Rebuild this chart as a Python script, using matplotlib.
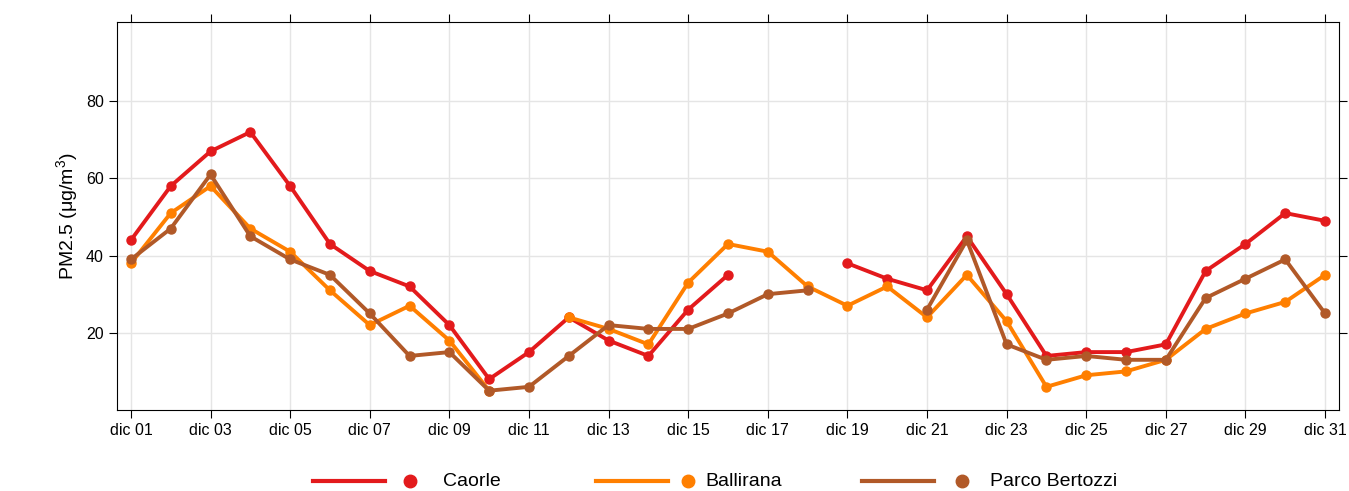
import matplotlib
matplotlib.use("Agg")
import matplotlib.pyplot as plt
from matplotlib.lines import Line2D
import numpy as np

plt.rcParams['font.family'] = ['Liberation Sans', 'DejaVu Sans']
plt.rcParams['mathtext.fontset'] = 'custom'
plt.rcParams['mathtext.rm'] = 'Liberation Sans'
plt.rcParams['mathtext.it'] = 'Liberation Sans'

nan = np.nan
days = list(range(1, 32))
caorle = [44,58,67,72,58,43,36,32,22,8,15,24,18,14,26,35,nan,nan,38,34,31,45,30,14,15,15,17,36,43,51,49]
ballirana = [38,51,58,47,41,31,22,27,18,5,nan,24,21,17,33,43,41,32,27,32,24,35,23,6,9,10,13,21,25,28,35]
bertozzi = [39,47,61,45,39,35,25,14,15,5,6,14,22,21,21,25,30,31,nan,nan,26,44,17,13,14,13,13,29,34,39,25]
series = [("Caorle", caorle, "#e31a1c"), ("Ballirana", ballirana, "#ff7f00"), ("Parco Bertozzi", bertozzi, "#b15928")]
tick_days = list(range(1, 32, 2))
tick_labels = [f"dic {d:02d}" for d in tick_days]

fig = plt.figure(figsize=(13.49, 4.91), dpi=100)
ax = fig.add_axes([117/1349, 1-410/491, 1222/1349, (410-22)/491])
for name, vals, c in series:
    ax.plot(days, vals, color=c, lw=2.8, marker="o", ms=6.5, label=name)
ax.set_xlim(0.65, 31.35)
ax.set_ylim(0, 100.5)
ax.set_xticks(tick_days)
ax.set_xticklabels(tick_labels, fontsize=11.5)
ax.set_yticks([20, 40, 60, 80])
ax.tick_params(axis="both", labelsize=11.5, direction="out", length=6, top=True, right=True, labeltop=False, labelright=False)
ax.grid(color="#e5e5e5", lw=1)
ax.set_axisbelow(True)
ax.set_ylabel("PM2.5 ($\\mathrm{\\mu}$g/m$^3$)", fontsize=14)

ly = 1 - 481/491
xs = [(313, 410, 443, "Caorle"), (596, 688, 705, "Ballirana"), (862, 962, 990, "Parco Bertozzi")]
for (x0, xm, xt, name), (_, _, c) in zip(xs, series):
    fig.add_artist(Line2D([x0/1349, (x0+72)/1349], [ly, ly], color=c, lw=3, transform=fig.transFigure))
    fig.add_artist(Line2D([xm/1349], [ly], color=c, marker="o", ms=9, transform=fig.transFigure))
    fig.text(xt/1349, ly, name, fontsize=14, va="center", ha="left")
fig.savefig("out.png", dpi=100)
